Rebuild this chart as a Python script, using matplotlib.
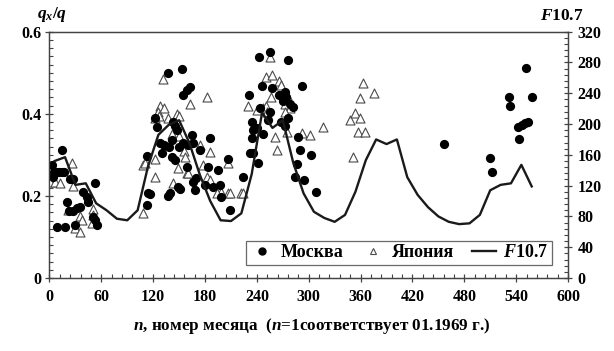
import matplotlib
matplotlib.use("Agg")
import matplotlib.pyplot as plt
from matplotlib.lines import Line2D
from matplotlib.ticker import MultipleLocator, FuncFormatter

plt.rcParams['font.family'] = ['Liberation Serif', 'DejaVu Serif']
plt.rcParams['font.weight'] = 'bold'
plt.rcParams['mathtext.fontset'] = 'custom'
plt.rcParams['mathtext.it'] = 'Liberation Serif:italic:bold'
plt.rcParams['mathtext.rm'] = 'Liberation Serif:bold'
plt.rcParams['mathtext.bf'] = 'Liberation Serif:bold'

# F10.7 yearly values (month n, flux)
f_n = [6, 18, 30, 42, 54, 66, 78, 90, 102, 114, 126, 138, 150, 162, 174, 186,
       198, 210, 222, 234, 246, 258, 270, 282, 294, 306, 318, 330, 342, 354,
       366, 378, 390, 402, 414, 426, 438, 450, 462, 474, 486, 498, 510, 522,
       534, 546, 558]
f_val = [152, 157, 121, 123, 97, 88, 77, 75, 88, 145, 186, 199, 205, 175, 134, 100,
         75, 74, 84, 135, 215, 195, 205, 150, 110, 86, 78, 73, 82, 112,
         153, 180, 174, 180, 131, 108, 92, 80, 73, 70, 71, 82, 114, 121,
         123, 147, 119]

# Moscow (circles)
msk_n = [14, 2.5, 5, 8, 11, 14, 17, 4.5, 23.7, 27.5, 52.6, 39, 43, 45, 20,
         35, 31.5, 22, 27.5, 29.5, 8.3, 18, 50.7, 52.6, 54.6,
         137.5, 153, 162.6, 158.8, 155, 122, 124, 143, 145, 147,
         128, 133, 138, 142, 150, 155, 160, 166.4, 164.5, 174,
         112.5, 130, 141.4, 145.2, 158.8, 170, 166.4, 168, 185.7, 183.8,
         195, 189.6, 114, 116, 112.5, 137.5, 139, 149, 151, 180, 197, 199,
         209, 207, 224,
         255, 242.8, 276.3, 291.8, 245.5, 257, 231, 266, 270, 274, 278, 282, 272,
         243.6, 255, 253, 268, 272, 276, 234, 236, 240, 247, 232, 236, 241.6, 234,
         286, 288, 290, 303, 284, 294, 308.4,
         456.5, 509.7, 512.4, 532, 533, 543.6, 542.5, 546.4, 550, 553.3, 551, 558.7]
msk_q = [0.312, 0.275, 0.257, 0.257, 0.257, 0.257, 0.257, 0.247, 0.24, 0.24, 0.232, 0.209, 0.198, 0.186, 0.186,
         0.174, 0.17, 0.162, 0.162, 0.129, 0.124, 0.124, 0.148, 0.141, 0.129,
         0.500, 0.508, 0.466, 0.458, 0.446, 0.389, 0.369, 0.38, 0.37, 0.36,
         0.33, 0.325, 0.32, 0.335, 0.32, 0.33, 0.325, 0.328, 0.348, 0.312,
         0.297, 0.304, 0.295, 0.287, 0.271, 0.243, 0.235, 0.214, 0.34, 0.271,
         0.263, 0.222, 0.206, 0.205, 0.178, 0.2, 0.207, 0.222, 0.218, 0.227, 0.227, 0.198,
         0.166, 0.291, 0.247,
         0.551, 0.538, 0.531, 0.468, 0.468, 0.462, 0.445, 0.445, 0.43, 0.44, 0.425, 0.417, 0.454,
         0.413, 0.405, 0.385, 0.38, 0.37, 0.39, 0.38, 0.36, 0.365, 0.35, 0.305, 0.304, 0.279, 0.34,
         0.278, 0.343, 0.312, 0.30, 0.247, 0.239, 0.21,
         0.326, 0.293, 0.257, 0.442, 0.419, 0.338, 0.369, 0.373, 0.377, 0.381, 0.511, 0.442]

# Japan (triangles)
jp_n = [25.7, 0.6, 6.4, 12, 27.5, 21.8, 35.3, 37.3, 29.5, 35.3, 48.8, 50.7, 50.7,
        131.7, 182, 162.6, 128, 133, 126, 127, 122, 137, 148, 150,
        142, 150, 153, 156, 108.6, 111, 122, 122, 143, 178, 182, 185.7, 174,
        156.8, 149, 158.8, 160.6, 185.7, 199, 207, 222, 207, 108.6,
        255, 250, 257, 265, 268, 256, 275, 272, 278, 247, 250, 252, 272, 230, 240,
        261, 263, 274.5, 291.8, 301.4, 316, 224, 209, 193.5,
        347.7, 353.5, 359.3, 357.3, 365, 351.6, 359.3, 363, 375.5]
jp_q = [0.281, 0.235, 0.235, 0.231, 0.224, 0.166, 0.151, 0.141, 0.121, 0.113, 0.133, 0.167, 0.153,
        0.484, 0.442, 0.425, 0.42, 0.415, 0.405, 0.395, 0.39, 0.39, 0.40, 0.395,
        0.35, 0.345, 0.33, 0.31, 0.275, 0.28, 0.29, 0.247, 0.231, 0.275, 0.247, 0.308, 0.324,
        0.295, 0.267, 0.255, 0.255, 0.239, 0.21, 0.206, 0.206, 0.279, 0.158,
        0.538, 0.49, 0.495, 0.48, 0.47, 0.44, 0.445, 0.425, 0.415, 0.415, 0.42, 0.405, 0.405, 0.42, 0.41,
        0.343, 0.312, 0.356, 0.352, 0.348, 0.367, 0.207, 0.207, 0.207,
        0.385, 0.401, 0.389, 0.356, 0.356, 0.294, 0.438, 0.474, 0.45]

fig = plt.figure(figsize=(6.14, 3.51), dpi=100)
ax = fig.add_axes([0.0806, 0.208, 0.8445, 0.7017])
ax2 = ax.twinx()

ax.scatter(jp_n, jp_q, marker='^', s=42, facecolors='white', edgecolors='#4a4a4a',
           linewidths=0.8, zorder=3)
ax.scatter(msk_n, msk_q, marker='o', s=44, color='black', zorder=4, linewidths=0)
ax2.plot(f_n, f_val, color='#1a1a1a', lw=1.7, zorder=5)

ax.set_xlim(0, 600)
ax.set_ylim(0, 0.6)
ax2.set_ylim(0, 320)

ax.xaxis.set_major_locator(MultipleLocator(60))
ax.xaxis.set_minor_locator(MultipleLocator(12))
ax.yaxis.set_major_locator(MultipleLocator(0.2))
ax.yaxis.set_minor_locator(MultipleLocator(0.02))
ax2.yaxis.set_major_locator(MultipleLocator(40))
ax2.yaxis.set_minor_locator(MultipleLocator(8))

ax.yaxis.set_major_formatter(FuncFormatter(lambda v, p: '0' if abs(v) < 1e-9 else f'{v:.1f}'))

for a in (ax, ax2):
    for s in a.spines.values():
        s.set_color('#444444')
        s.set_linewidth(0.9)
ax.tick_params(axis='both', which='major', direction='inout', length=6, width=0.9,
               color='#444444', labelsize=11.5, pad=3)
ax.tick_params(axis='x', which='major', pad=5)
ax.tick_params(axis='both', which='minor', direction='in', length=3, width=0.8, color='#444444')
ax2.tick_params(axis='y', which='major', direction='inout', length=6, width=0.9,
                color='#444444', labelsize=11.5, pad=4)
ax2.tick_params(axis='y', which='minor', direction='in', length=3, width=0.8, color='#444444')
for lab in ax.get_xticklabels() + ax.get_yticklabels() + ax2.get_yticklabels():
    lab.set_fontweight('bold')

ax.text(-0.025, 1.03, r'$q_x/q$', transform=ax.transAxes, fontsize=12.5, ha='left', va='bottom')
ax.text(1.03, 1.03, r'$F$10.7', transform=ax.transAxes, fontsize=12.5, ha='right',
        va='bottom', fontweight='bold')
fig.text(0.508, 0.072, r'$n$, номер месяца  ($n$=1соответствует 01.1969 г.)',
         fontsize=12.3, ha='center', va='center', fontweight='bold')

handles = [Line2D([], [], marker='o', color='black', ls='none', markersize=5),
           Line2D([], [], marker='^', markerfacecolor='white', markeredgecolor='#4a4a4a',
                  ls='none', markersize=5, markeredgewidth=0.8),
           Line2D([], [], color='#1a1a1a', lw=1.7)]
labels = ['Москва', 'Япония', r'$F$10.7']
leg = ax2.legend(handles, labels, ncol=3, loc='lower right', bbox_to_anchor=(0.9686, 0.053),
                 frameon=True, fancybox=False, edgecolor='#444444', fontsize=13,
                 handlelength=1.3, handletextpad=0.4, columnspacing=1.0,
                 borderpad=0.2, borderaxespad=0)
leg.get_frame().set_linewidth(0.9)
for t in leg.get_texts():
    t.set_fontweight('bold')

fig.savefig('out.png', dpi=100)
